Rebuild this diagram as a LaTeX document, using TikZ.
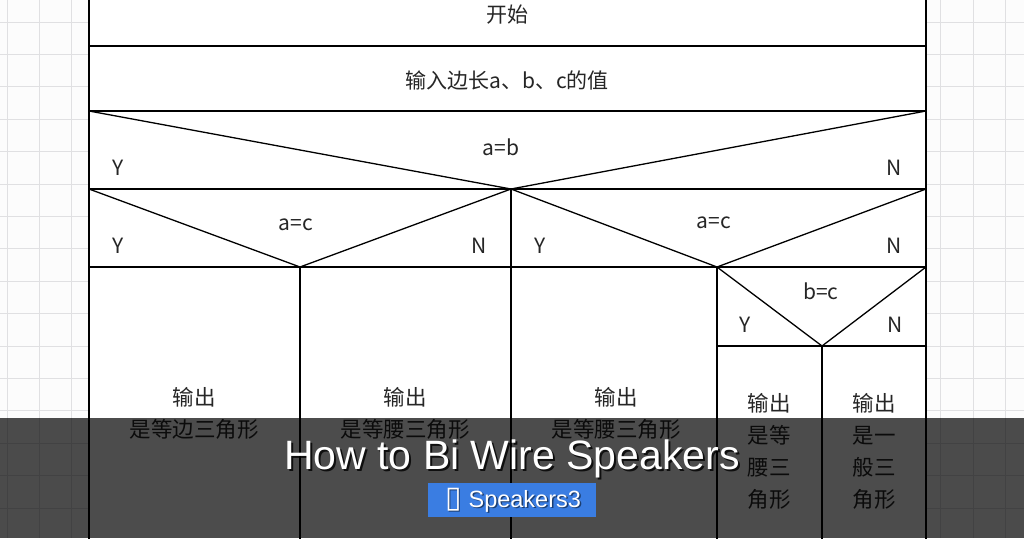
\documentclass[tikz,border=0pt]{standalone}
\usepackage{fontspec}
\setmainfont{Liberation Sans}
\newfontfamily\cjk{Noto Sans CJK SC}
\newfontfamily\dejavu{DejaVu Sans}
\definecolor{gridc}{RGB}{224,224,226}
\definecolor{pagebg}{RGB}{252,252,252}
\definecolor{btnblue}{RGB}{58,125,226}
\begin{document}
\begin{tikzpicture}[x=1pt,y=-1pt,
  nsline/.style={line width=1.3pt,black},
  gridline/.style={line width=0.8pt,gridc},
  lbl/.style={font=\cjk\fontsize{21}{24}\selectfont,inner sep=0pt,text=black!85},
  yn/.style={font=\cjk\fontsize{21}{24}\selectfont,inner sep=0pt,text=black!85},
  col/.style={font=\cjk\fontsize{21.5}{32}\selectfont,inner sep=0pt,align=center,text=black!85}]
\useasboundingbox (0,0) rectangle (1024,538);
\fill[pagebg] (0,0) rectangle (1024,538);
% grid
\foreach \i in {0,...,31} \draw[gridline] (7+32.2*\i,0) -- (7+32.2*\i,538);
\foreach \j in {0,...,16} \draw[gridline] (0,22+32.4*\j) -- (1024,22+32.4*\j);
% outer frame
\fill[white] (89,-5) rectangle (926,545);
\draw[nsline] (89,-5) -- (89,545);
\draw[nsline] (926,-5) -- (926,545);
% horizontal separators
\draw[nsline] (89,46) -- (926,46);
\draw[nsline] (89,111) -- (926,111);
\draw[nsline] (89,189) -- (926,189);
\draw[nsline] (89,267) -- (926,267);
\draw[nsline] (717,346) -- (926,346);
% decision a=b
\coordinate (ab) at (511,189);
\draw[nsline] (89,111) -- (ab) -- (926,111);
% decision a=c left
\coordinate (acl) at (300,267);
\draw[nsline] (89,189) -- (acl) -- (ab);
% decision a=c right
\coordinate (acr) at (717,267);
\draw[nsline] (ab) -- (acr) -- (926,189);
% decision b=c
\coordinate (bc) at (822,346);
\draw[nsline] (acr) -- (bc) -- (926,267);
% vertical dividers
\draw[nsline] (acl) -- (300,545);
\draw[nsline] (ab) -- (511,545);
\draw[nsline] (acr) -- (717,545);
\draw[nsline] (bc) -- (822,545);
% texts
\node[lbl] (start) at (507,15) {开始};
\node[lbl] (input) at (507,80) {输入边长a、b、c的值};
\node[lbl] (qab) at (501,147) {a=b};
\node[yn] (y1) at (118,168) {Y};
\node[yn] (n1) at (894,168) {N};
\node[lbl] (qac1) at (296,225) {a=c};
\node[yn] (y2) at (118,246) {Y};
\node[yn] (n2) at (479,246) {N};
\node[lbl] (qac2) at (714,223) {a=c};
\node[yn] (y3) at (540,246) {Y};
\node[yn] (n3) at (894,246) {N};
\node[lbl] (qbc) at (821,291) {b=c};
\node[yn] (y4) at (745,325) {Y};
\node[yn] (n4) at (895,325) {N};
\node[col] (o1) at (194,413) {输出\\是等边三角形};
\node[col] (o2) at (405,413) {输出\\是等腰三角形};
\node[col] (o3) at (616,413) {输出\\是等腰三角形};
\node[col] (o4) at (769,451) {输出\\是等\\腰三\\角形};
\node[col] (o5) at (874,451) {输出\\是一\\般三\\角形};
% overlay banner
\fill[black,opacity=0.7] (0,418) rectangle (1024,538);
\node[font=\fontsize{41}{46}\selectfont,text=black,opacity=0.8,inner sep=0pt] (titleshadow) at (514,461) {How to Bi Wire Speakers};
\node[font=\fontsize{41}{46}\selectfont,text=white,inner sep=0pt] (title) at (512,459) {How to Bi Wire Speakers};
\fill[btnblue] (428,483) rectangle (596,517);
\node[font=\fontsize{23.5}{26}\selectfont,text=black,opacity=0.5,inner sep=0pt] (btnshadow) at (514.5,501.5) {{\dejavu\fontsize{30}{30}\selectfont ▯}\hspace{7pt}Speakers3};
\node[font=\fontsize{23.5}{26}\selectfont,text=white,inner sep=0pt] (btn) at (513,500) {{\dejavu\fontsize{30}{30}\selectfont ▯}\hspace{7pt}Speakers3};
\end{tikzpicture}
\end{document}
